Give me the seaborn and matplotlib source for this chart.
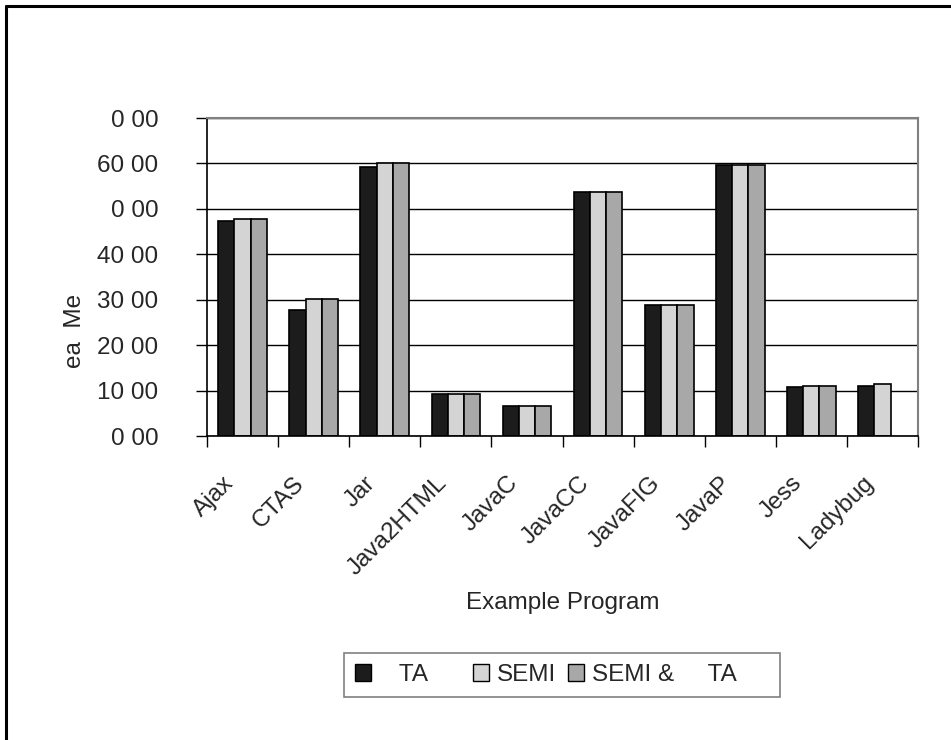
import numpy as np
import pandas as pd
import matplotlib
matplotlib.use("Agg")
import matplotlib.pyplot as plt
from matplotlib.lines import Line2D
import seaborn as sns

programs = ["Ajax", "CTAS", "Jar", "Java2HTML", "JavaC", "JavaCC",
            "JavaFIG", "JavaP", "Jess", "Ladybug"]
ta_values = [47.4, 27.8, 59.3, 9.2, 6.7, 53.8, 28.8, 59.7, 10.7, 11.1]
semi_values = [47.8, 30.1, 60.1, 9.2, 6.6, 53.8, 28.8, 59.7, 11.1, 11.5]
semi_ta_values = [47.8, 30.1, 60.1, 9.2, 6.6, 53.8, 28.8, 59.7, 11.1, np.nan]
series_names = ["TA", "SEMI", "SEMI & TA"]
legend_labels = ["   TA     ", "SEMI", "SEMI &     TA     "]
y_ticks = [0, 10, 20, 30, 40, 50, 60, 70]
y_tick_labels = ["0 00", "10 00", "20 00", "30 00", "40 00", "0 00", "60 00", "0 00"]
palette = ["#1c1c1c", "#d4d4d4", "#a8a8a8"]

df = pd.DataFrame({
    "program": programs * 3,
    "series": [s for s in series_names for _ in programs],
    "value": ta_values + semi_values + semi_ta_values,
})

sns.set_theme(style="white")
plt.rcParams["font.family"] = ["Liberation Sans", "DejaVu Sans"]
FS = 17.5

fig = plt.figure(figsize=(9.51, 7.40), dpi=100)
ax = fig.add_axes([0.2177, 0.4108, 0.7476, 0.4297])

sns.barplot(data=df, x="program", y="value", hue="series", order=programs,
            hue_order=series_names, palette=palette, width=0.685, gap=0,
            edgecolor="black", linewidth=1.2, saturation=1, errorbar=None,
            legend=False, ax=ax)

ax.set_xlim(-0.5, len(programs) - 0.5)
ax.set_ylim(0, 70)
ax.set_yticks(y_ticks)
ax.set_yticklabels(y_tick_labels, fontsize=FS)
ax.yaxis.grid(True, color="black", linewidth=1.0)
ax.set_axisbelow(True)

# tick marks on the category boundaries; slanted names under each group
ax.set_xticks(range(len(programs)))
ax.set_xticklabels([])
ax.set_xticks(np.arange(-0.5, len(programs), 1.0), minor=True)
ax.tick_params(axis="x", which="major", length=0)
ax.tick_params(axis="x", which="minor", length=8, width=1.0, color="black",
               direction="out", bottom=True)
ax.tick_params(axis="y", length=8, width=1.0, color="black", direction="out",
               left=True, pad=27)
for i, name in enumerate(programs):
    ax.annotate(name, xy=(i, 0), xycoords=("data", "axes fraction"),
                xytext=(-14.5, -26), textcoords="offset points",
                ha="right", va="top", rotation=45, rotation_mode="anchor",
                fontsize=FS, annotation_clip=False)

for side in ("left", "bottom"):
    ax.spines[side].set_color("black")
    ax.spines[side].set_linewidth(1.2)
for side in ("top", "right"):
    ax.spines[side].set_color("#808080")
    ax.spines[side].set_linewidth(1.5)

ax.set_xlabel("Example Program", fontsize=FS)
ax.xaxis.set_label_coords(0.5, -0.525)
ax.xaxis.label.set_va("center")
ax.set_ylabel("ea  Me", fontsize=FS)
ax.yaxis.set_label_coords(-0.186, 0.33)
ax.yaxis.label.set_va("center")

handles = [plt.Rectangle((0, 0), 1, 1, facecolor=c, edgecolor="black",
                         linewidth=1.0) for c in palette]
leg = fig.legend(handles, legend_labels, loc="center",
                 bbox_to_anchor=(0.591, 0.088), ncol=3, fontsize=FS,
                 frameon=True, fancybox=False, handlelength=0.66,
                 handleheight=0.66, handletextpad=0.33, columnspacing=0.5,
                 borderpad=0.45, borderaxespad=0)
leg.get_frame().set_edgecolor("#606060")
leg.get_frame().set_linewidth(1.2)

# outer chart frame
fig.add_artist(Line2D([6 / 951, 1.0], [1 - 6 / 740, 1 - 6 / 740],
                      transform=fig.transFigure, color="black", linewidth=2.2))
fig.add_artist(Line2D([6 / 951, 6 / 951], [0.0, 1 - 6 / 740],
                      transform=fig.transFigure, color="black", linewidth=2.2))

fig.savefig("out.png", dpi=100, facecolor="white")
